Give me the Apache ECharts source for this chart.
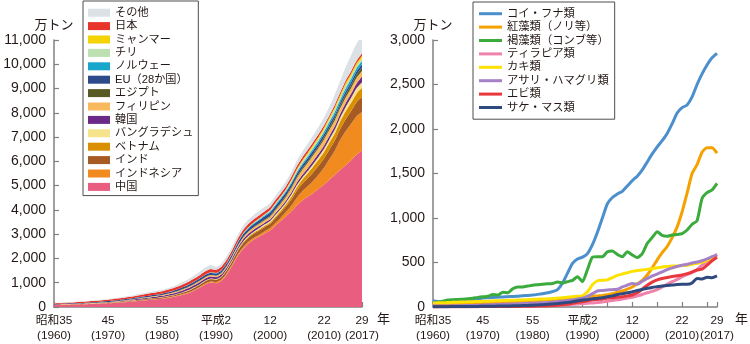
<!DOCTYPE html>
<html><head><meta charset="utf-8">
<script src="https://cdn.jsdelivr.net/npm/echarts@6/dist/echarts.min.js"></script>
<style>html,body{margin:0;padding:0;background:#fff}#c{width:750px;height:344px}</style>
</head><body><div id="c"></div>
<script>
const years = [1960,1961,1962,1963,1964,1965,1966,1967,1968,1969,
  1970,1971,1972,1973,1974,1975,1976,1977,1978,1979,
  1980,1981,1982,1983,1984,1985,1986,1987,1988,1989,
  1990,1991,1992,1993,1994,1995,1996,1997,1998,1999,
  2000,2001,2002,2003,2004,2005,2006,2007,2008,2009,
  2010,2011,2012,2013,2014,2015,2016,2017];
const tickYears = [1960,1965,1970,1975,1980,1985,1990,1995,2000,2005,2010,2015,2017];
const labelYears = [1960,1970,1980,1990,2000,2010,2017];
const labelTexts = ['昭和35\n(1960)','45\n(1970)','55\n(1980)','平成2\n(1990)','12\n(2000)','22\n(2010)','29\n(2017)'];

// Left: aquaculture production by country (万トン), stacked bottom -> top
const china = [85,88,92,96,100,105,112,120,130,140, 150,165,180,195,215,235,255,275,295,318, 340,375,410,460,520,580,680,800,930,1010, 980,1080,1350,1700,2100,2400,2620,2780,2900,3030, 3150,3350,3550,3750,3950,4200,4400,4550,4700,4880, 5050,5250,5450,5650,5850,6050,6280,6450];
const indonesia = [6,6,7,7,8,8,8,9,9,10, 10,10,11,11,12,12,13,13,14,14, 15,16,18,20,22,25,30,35,40,45, 50,52,55,58,62,65,70,75,80,90, 100,120,140,180,240,320,380,430,500,580, 700,850,1000,1250,1400,1500,1580,1580];
const india = [6,7,7,8,9,10,11,12,13,14, 15,17,19,21,23,25,28,30,33,35, 37,42,48,55,65,75,80,85,88,90, 90,100,110,125,140,160,165,170,175,178, 180,200,215,230,260,290,310,330,350,365, 380,400,420,450,490,530,580,620];
const vietnam = [3,3,3,4,4,4,5,5,5,5, 6,6,6,7,7,7,8,8,9,9, 10,10,11,11,12,15,15,15,16,16, 16,17,20,25,30,38,40,42,45,48, 50,60,70,90,120,145,170,210,250,260, 270,285,300,310,330,340,360,380];
const bangladesh = [3,3,3,4,4,4,4,5,5,5, 6,6,6,7,7,7,8,8,9,9, 10,10,11,12,13,15,16,17,18,18, 19,21,23,26,29,32,38,45,55,60, 66,70,75,80,85,88,90,95,105,115, 130,140,150,160,180,206,220,233];
const korea = [2,2,3,3,4,4,5,6,7,8, 10,12,15,18,22,30,35,40,45,48, 50,55,60,65,72,80,85,80,78,75, 70,75,80,85,90,100,95,85,80,70, 65,70,75,80,90,104,110,115,120,130, 136,140,145,150,160,165,190,231];
const philippines = [4,4,5,5,5,6,6,7,8,9, 10,11,13,15,17,19,21,24,27,29, 30,33,37,42,46,50,52,55,58,60, 60,62,65,68,72,76,80,85,92,100, 110,125,140,155,175,190,205,220,235,245, 250,245,240,235,235,235,230,224];
const egypt = [1,1,1,1,1,1,1,1,1,1, 1,1,1,1,1,1,2,2,2,2, 2,2,3,3,3,4,4,5,5,6, 6,6,6,6,7,7,10,15,20,25, 34,38,40,45,47,54,60,64,69,71, 92,99,101,102,113,117,137,145];
const eu28 = [18,19,20,22,24,26,28,30,32,34, 35,37,39,41,43,45,47,50,52,54, 55,60,65,70,78,85,88,90,92,95, 90,95,100,105,110,115,120,125,130,135, 140,140,138,135,132,130,128,127,126,125, 125,123,120,122,128,130,134,137];
const norway = [0,0,0,0,0,0,0,0,0,0, 1,1,1,1,1,1,1,1,1,1, 1,1,1,2,2,3,5,6,8,10, 15,15,13,17,22,28,32,37,41,48, 49,51,55,58,64,66,71,84,85,96, 102,114,132,125,133,138,133,131];
const chile = [0,0,0,0,0,0,0,0,0,0, 0,0,0,0,0,0,0,0,0,0, 1,1,1,1,2,2,2,3,4,5, 7,10,13,14,15,16,20,27,29,27, 39,57,55,56,67,70,80,83,84,79, 70,95,107,103,122,105,104,122];
const myanmar = [0,0,0,0,0,0,0,0,0,0, 0,0,0,0,0,0,0,1,1,1, 1,1,1,1,1,1,1,1,1,1, 1,1,2,3,4,5,7,8,8,9, 10,12,19,25,40,49,57,60,67,78, 85,82,88,93,96,100,100,101];
const japan = [28,31,34,37,40,44,47,50,52,54, 55,60,65,68,72,75,80,85,88,92, 95,100,105,110,115,120,125,130,135,138, 130,132,130,128,130,130,132,130,128,126, 125,125,124,123,122,120,118,116,115,112, 110,90,105,103,102,107,103,102];
const others = [12,13,14,15,16,18,20,22,24,26, 28,30,34,38,40,42,46,50,55,60, 60,68,78,88,100,110,125,140,150,160, 120,130,140,150,160,170,175,175,180,180, 160,170,180,190,200,220,240,260,280,300, 320,360,420,480,560,650,700,750];

// Right: production by species group (万トン)
const carp = [70,62,55,56,60,68,74,80,86,92, 100,104,108,110,113,116,118,122,126,130, 135,142,150,160,172,195,270,380,490,540, 560,600,700,840,1000,1160,1230,1270,1300,1360, 1420,1470,1540,1630,1720,1800,1870,1950,2060,2180, 2240,2270,2360,2500,2620,2720,2800,2850];
const redAlgae = [30,30,32,33,35,36,38,40,42,44, 45,48,50,52,55,58,60,62,65,68, 70,72,75,78,80,85,88,92,98,105, 110,115,120,125,130,138,150,165,180,200, 225,260,300,360,440,530,610,680,780,900, 1070,1280,1500,1600,1740,1790,1790,1730];
const brownAlgae = [45,55,65,78,82,85,88,92,98,108, 115,120,140,135,165,160,205,225,225,235, 245,250,255,260,265,280,270,285,300,340, 285,420,560,565,565,620,630,590,565,620, 585,555,600,715,780,845,805,795,810,815, 825,865,930,970,1220,1285,1315,1390];
const tilapia = [2,2,3,3,3,4,4,4,5,5, 6,6,7,7,8,8,9,10,10,11, 12,13,14,16,18,20,23,26,30,34, 38,42,46,50,55,65,72,80,90,100, 110,125,140,160,175,195,225,255,285,310, 340,365,385,420,470,510,550,595];
const oyster = [45,47,48,50,52,54,56,58,60,62, 64,66,68,70,72,74,76,78,80,82, 85,88,90,92,95,100,105,110,115,120, 125,170,250,295,300,305,330,355,370,385, 400,410,415,425,430,440,450,455,460,460, 465,470,480,490,505,525,550,570];
const clam = [10,10,11,12,13,14,15,16,18,20, 22,24,26,28,30,32,34,36,38,40, 42,45,48,52,56,60,66,72,80,90, 100,120,150,180,185,190,195,200,225,245, 265,255,290,320,350,370,395,420,440,455, 470,480,495,505,520,540,565,585];
const shrimp = [2,2,2,3,3,3,3,4,4,4, 5,5,5,6,6,6,7,7,8,8, 9,10,11,13,16,20,25,32,42,52, 60,70,80,85,90,100,105,110,115,125, 135,160,200,245,280,305,320,332,342,352, 360,375,395,415,425,470,520,560];
const salmon = [3,3,4,4,5,5,6,6,7,7, 8,8,9,10,11,12,13,14,16,18, 20,23,26,30,35,40,46,52,60,70, 78,85,92,98,105,115,125,140,150,160, 172,185,198,210,220,228,236,242,247,252, 255,255,270,320,315,335,330,350];

const stackSeries = [
  ['中国', china, '#e95d80'],
  ['インドネシア', indonesia, '#f28b1f'],
  ['インド', india, '#a65a24'],
  ['ベトナム', vietnam, '#d98f00'],
  ['バングラデシュ', bangladesh, '#f6e38c'],
  ['韓国', korea, '#6b2a88'],
  ['フィリピン', philippines, '#f8b95c'],
  ['エジプト', egypt, '#575a22'],
  ['EU（28か国）', eu28, '#2d4a8a'],
  ['ノルウェー', norway, '#17a6cc'],
  ['チリ', chile, '#bde0b0'],
  ['ミャンマー', myanmar, '#f3d300'],
  ['日本', japan, '#e8342b'],
  ['その他', others, '#dbe1e4']
];
const lineSeries = [
  ['コイ・フナ類', carp, '#4b8fcc'],
  ['紅藻類（ノリ等）', redAlgae, '#f5a100'],
  ['褐藻類（コンブ等）', brownAlgae, '#3aab3c'],
  ['ティラピア類', tilapia, '#ef82ab'],
  ['カキ類', oyster, '#fde100'],
  ['アサリ・ハマグリ類', clam, '#a681c6'],
  ['エビ類', shrimp, '#e8383d'],
  ['サケ・マス類', salmon, '#2e4a7f']
];

const FONT = '"Liberation Sans", "Noto Sans CJK JP", sans-serif';
const TXT = '#231815';
const AX = '#808080';

function xAxisDef(idx) {
  return {
    type: 'category', gridIndex: idx, data: years, boundaryGap: false,
    axisLine: { lineStyle: { color: AX, width: 1.5 } },
    axisTick: { inside: true, length: 5, lineStyle: { color: AX, width: 1.2 },
      interval: (i, v) => tickYears.indexOf(Number(v)) >= 0 },
    axisLabel: { color: TXT, fontFamily: FONT, fontSize: 11.8, lineHeight: 15, margin: 6,
      hideOverlap: false, showMaxLabel: true, showMinLabel: true,
      interval: (i, v) => labelYears.indexOf(Number(v)) >= 0,
      formatter: v => { const k = labelYears.indexOf(Number(v)); return k >= 0 ? labelTexts[k] : ''; } },
    splitLine: { show: false }
  };
}
function yAxisDef(idx, max, interval) {
  return {
    type: 'value', gridIndex: idx, min: 0, max: max, interval: interval,
    name: '万トン', nameLocation: 'end', nameGap: 8,
    nameTextStyle: { color: TXT, fontFamily: FONT, fontSize: 13, align: 'center' },
    axisLine: { show: true, lineStyle: { color: AX, width: 1.5 } },
    axisTick: { show: true, inside: true, length: 5, lineStyle: { color: AX, width: 1.2 } },
    axisLabel: { color: TXT, fontFamily: FONT, fontSize: 14, margin: 8,
      formatter: v => v.toLocaleString('en-US') },
    splitLine: { show: false }
  };
}

const series = [];
stackSeries.forEach(s => series.push({
  name: s[0], type: 'line', xAxisIndex: 0, yAxisIndex: 0, stack: 'total',
  data: s[1], smooth: 0.2, showSymbol: false, symbol: 'none',
  lineStyle: { width: 0 }, areaStyle: { color: s[2], opacity: 1 },
  itemStyle: { color: s[2] }
}));
lineSeries.forEach(s => series.push({
  name: s[0], type: 'line', xAxisIndex: 1, yAxisIndex: 1,
  data: s[1], smooth: 0.2, showSymbol: false, symbol: 'none',
  lineStyle: { width: 3, color: s[2] }, itemStyle: { color: s[2] }
}));

const chart = echarts.init(document.getElementById('c'), null, { renderer: 'canvas' });
chart.setOption({
  animation: false,
  backgroundColor: '#fff',
  grid: [
    { left: 54, right: 388, top: 40, bottom: 37 },
    { left: 433, right: 33, top: 40, bottom: 37 }
  ],
  xAxis: [xAxisDef(0), xAxisDef(1)],
  yAxis: [yAxisDef(0, 11000, 1000), yAxisDef(1, 3000, 500)],
  legend: [
    { orient: 'vertical', left: 83, top: 1, padding: [5, 5, 2, 5], itemGap: 0,
      itemWidth: 22, itemHeight: 8, icon: 'rect',
      borderColor: '#4d4d4d', borderWidth: 1,
      textStyle: { color: TXT, fontFamily: FONT, fontSize: 11.2, lineHeight: 13.4 },
      data: stackSeries.map(s => s[0]).reverse() },
    { orient: 'vertical', left: 473, top: 2, padding: [5, 6, 5, 6], itemGap: 0,
      itemWidth: 23, itemHeight: 3, icon: 'rect',
      borderColor: '#4d4d4d', borderWidth: 1,
      textStyle: { color: TXT, fontFamily: FONT, fontSize: 11.3, lineHeight: 13.4 },
      data: lineSeries.map(s => s[0]) }
  ],
  graphic: [
    { type: 'text', left: 377, top: 313, style: { text: '年', font: '13px ' + FONT, fill: TXT } },
    { type: 'text', left: 735, top: 313, style: { text: '年', font: '13px ' + FONT, fill: TXT } }
  ],
  series: series
});
</script>
</body></html>
